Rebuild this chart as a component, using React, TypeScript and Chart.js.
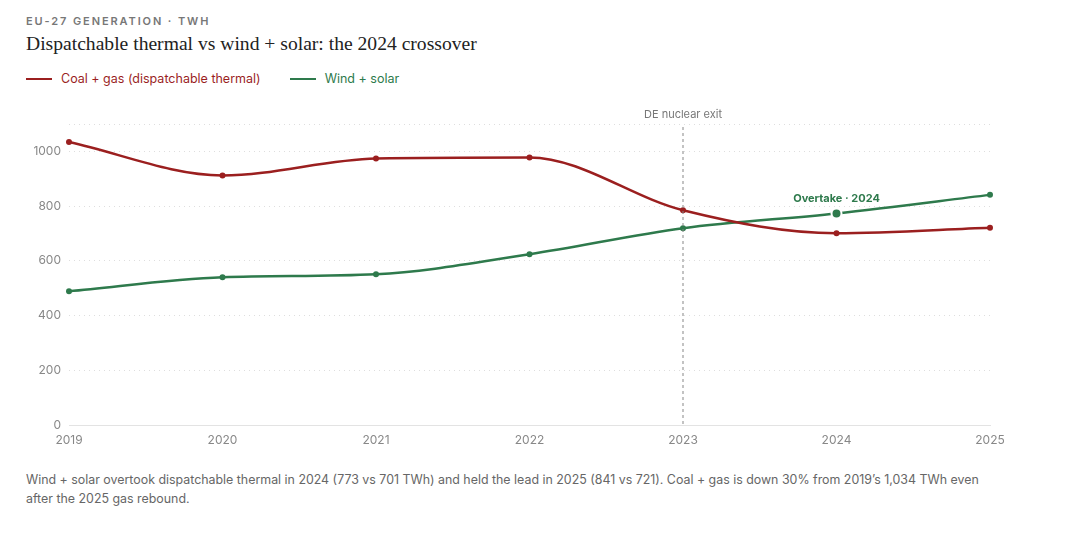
import React, { useEffect, useRef } from "react";
import { Chart, registerables } from "chart.js";

Chart.register(...registerables);

const years = ["2019", "2020", "2021", "2022", "2023", "2024", "2025"];
const coalGas = [1034, 912, 974, 978, 785, 701, 721];
const windSolar = [489, 540, 551, 624, 719, 773, 841];
const yTicks = [0, 200, 400, 600, 800, 1000];

const RED = "#9b1f1f";
const GREEN = "#2e7a4c";
const SANS = "Inter, 'Noto Sans', sans-serif";

const annotationPlugin = {
  id: "annot",
  afterDatasetsDraw(chart: any) {
    const { ctx, chartArea, scales } = chart;
    const x = scales.x.getPixelForValue(4);
    ctx.save();
    ctx.strokeStyle = "#888";
    ctx.lineWidth = 1;
    ctx.setLineDash([3, 3]);
    ctx.beginPath();
    ctx.moveTo(x, chartArea.top + 3);
    ctx.lineTo(x, chartArea.bottom);
    ctx.stroke();
    ctx.setLineDash([]);
    ctx.fillStyle = "#777";
    ctx.font = `11px ${SANS}`;
    ctx.textAlign = "center";
    ctx.textBaseline = "middle";
    ctx.fillText("DE nuclear exit", x, chartArea.top - 9);

    const ox = scales.x.getPixelForValue(5);
    const oy = scales.y.getPixelForValue(windSolar[5]);
    ctx.fillStyle = GREEN;
    ctx.font = `bold 11px ${SANS}`;
    ctx.fillText("Overtake · 2024", ox, oy - 15);
    ctx.restore();
  },
};

export default function App() {
  const ref = useRef<HTMLCanvasElement>(null);
  useEffect(() => {
    document.body.style.margin = "0";
    const chart = new Chart(ref.current!, {
      type: "line",
      data: {
        labels: years,
        datasets: [
          {
            label: "Coal + gas (dispatchable thermal)",
            data: coalGas,
            borderColor: RED,
            backgroundColor: RED,
            borderWidth: 2.5,
            pointRadius: 3,
            pointBorderWidth: 0,
            cubicInterpolationMode: "monotone",
          },
          {
            label: "Wind + solar",
            data: windSolar,
            borderColor: GREEN,
            backgroundColor: GREEN,
            borderWidth: 2.5,
            pointRadius: (c: any) => (c.dataIndex === 5 ? 5 : 3),
            pointBorderWidth: (c: any) => (c.dataIndex === 5 ? 2 : 0),
            pointBorderColor: "#fff",
            cubicInterpolationMode: "monotone",
          },
        ],
      },
      options: {
        animation: false,
        responsive: false,
        devicePixelRatio: 1,
        layout: { padding: { left: 0, right: 75, top: 29, bottom: 0 } },
        plugins: {
          legend: { display: false },
          tooltip: { enabled: false },
        },
        scales: {
          x: {
            offset: false,
            grid: { display: false, drawTicks: false },
            border: { display: true, color: "#e3e3e3", width: 1 },
            ticks: {
              color: "#888",
              padding: 8,
              font: { family: SANS, size: 12 },
              maxRotation: 0,
            },
            afterFit: (s: any) => {
              s.height = 30;
            },
          },
          y: {
            min: 0,
            max: 1100,
            afterBuildTicks: (s: any) => {
              s.ticks = [...yTicks, 1100].map((v) => ({ value: v }));
            },
            grid: {
              color: (c: any) => (c.tick && c.tick.value === 0 ? "transparent" : "#dedede"),
              drawTicks: false,
            },
            border: { display: false, dash: [1, 4] },
            ticks: {
              color: "#888",
              padding: 8,
              font: { family: SANS, size: 12 },
              callback: (v: any) => (yTicks.includes(v) ? String(v) : ""),
            },
            afterFit: (s: any) => {
              s.width = 69;
            },
          },
        },
      },
      plugins: [annotationPlugin],
    } as any);
    return () => chart.destroy();
  }, []);

  return (
    <div style={{ position: "relative", width: 1065, height: 553, background: "#fff", fontFamily: SANS }}>
      <div
        style={{
          position: "absolute",
          left: 26,
          top: 14,
          fontSize: 11,
          letterSpacing: 1.9,
          color: "#777",
          fontWeight: 600,
          lineHeight: "14px",
        }}
      >
        EU-27 GENERATION · TWH
      </div>
      <div
        style={{
          position: "absolute",
          left: 26,
          top: 32,
          fontSize: 19.6,
          fontFamily: "'Liberation Serif', 'DejaVu Serif', serif",
          color: "#222",
          lineHeight: "24px",
          whiteSpace: "nowrap",
        }}
      >
        Dispatchable thermal vs wind + solar: the 2024 crossover
      </div>
      <div style={{ position: "absolute", left: 26, top: 71, display: "flex", alignItems: "center", fontSize: 12.5, lineHeight: "16px" }}>
        <span style={{ display: "inline-block", width: 26, height: 2.5, background: RED, marginRight: 9 }} />
        <span style={{ color: RED, marginRight: 29 }}>Coal + gas (dispatchable thermal)</span>
        <span style={{ display: "inline-block", width: 26, height: 2.5, background: GREEN, marginRight: 9 }} />
        <span style={{ color: GREEN }}>Wind + solar</span>
      </div>
      <canvas ref={ref} width={1065} height={360} style={{ position: "absolute", left: 0, top: 95, width: 1065, height: 360 }} />
      <div
        style={{
          position: "absolute",
          left: 26,
          top: 470,
          width: 970,
          fontSize: 12.4,
          lineHeight: "19px",
          color: "#666",
        }}
      >
        Wind + solar overtook dispatchable thermal in 2024 (773 vs 701 TWh) and held the lead in 2025 (841 vs 721). Coal + gas is down 30% from 2019’s 1,034 TWh even after the 2025 gas rebound.
      </div>
    </div>
  );
}
